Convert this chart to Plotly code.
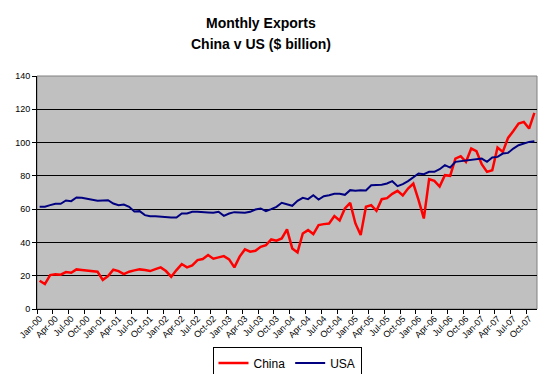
import plotly.graph_objects as go

MONTH_NAMES = ["Jan", "Feb", "Mar", "Apr", "May", "Jun",
               "Jul", "Aug", "Sep", "Oct", "Nov", "Dec"]
# Monthly categories Jan-00 .. Nov-07
categories = [f"{m}-{y:02d}" for y in range(0, 8) for m in MONTH_NAMES][:95]

china = [17.0, 15.0, 20.4, 20.8, 20.6, 22.2, 21.8, 23.8, 23.4, 23.2, 22.8, 22.4,
         17.4, 19.8, 23.6, 22.8, 21.0, 22.4, 23.2, 23.8, 23.4, 22.8, 24.0, 25.0,
         22.8, 19.4, 23.4, 27.0, 25.0, 26.2, 29.4, 30.0, 32.4, 30.2, 31.0, 31.8,
         29.8, 25.0, 31.5, 35.8, 34.4, 35.0, 37.4, 38.4, 41.8, 41.0, 42.4, 47.8,
         36.4, 34.0, 45.4, 47.4, 45.0, 50.4, 51.0, 51.4, 55.8, 53.2, 60.4, 63.8,
         51.4, 44.4, 61.4, 62.4, 59.0, 66.0, 66.6, 69.2, 71.0, 68.2, 72.4, 75.4,
         65.4, 54.4, 78.0, 77.0, 73.6, 80.4, 80.0, 90.4, 91.8, 88.4, 96.4, 94.8,
         87.0, 82.4, 83.4, 97.0, 94.4, 102.8, 107.0, 111.4, 112.4, 108.4, 117.8]

usa = [61.4, 61.4, 62.4, 63.2, 63.2, 65.2, 64.8, 67.0, 66.8, 66.0, 65.6, 65.0,
       65.2, 65.4, 63.4, 62.4, 62.8, 61.4, 58.6, 58.8, 56.4, 55.8, 55.8, 55.4,
       55.0, 55.0, 55.0, 57.4, 57.4, 58.4, 58.4, 58.4, 58.0, 57.8, 58.4, 56.0,
       57.4, 58.2, 58.2, 57.8, 58.4, 59.8, 60.4, 58.8, 60.0, 61.4, 63.8, 63.0,
       62.0, 65.0, 66.8, 66.0, 68.4, 65.8, 67.8, 68.4, 69.2, 69.2, 68.6, 71.4,
       71.0, 71.4, 71.2, 74.4, 74.4, 74.6, 75.4, 76.8, 73.8, 75.0, 76.8, 79.0,
       81.4, 81.0, 82.4, 82.4, 84.0, 86.4, 85.0, 88.4, 88.8, 88.8, 89.4, 89.8,
       90.4, 88.4, 91.0, 91.4, 93.4, 93.8, 96.4, 98.4, 99.4, 100.4, 100.8]

tick_labels = categories[::3]
tick_positions = list(range(0, len(categories), 3))
y_ticks = [0, 20, 40, 60, 80, 100, 120, 140]

FONT = "Liberation Sans, Arial, sans-serif"
x_idx = list(range(len(categories)))

fig = go.Figure()
fig.add_trace(go.Scatter(x=x_idx, y=china, mode="lines", name="China",
                         line=dict(color="#FF0000", width=2.5),
                         text=categories, hovertemplate="%{text}: %{y}<extra>China</extra>"))
fig.add_trace(go.Scatter(x=x_idx, y=usa, mode="lines", name="USA",
                         line=dict(color="#000080", width=2),
                         text=categories, hovertemplate="%{text}: %{y}<extra>USA</extra>"))

# The page adds an 8px body margin, so the figure is 8px smaller on each side.
fig.update_layout(
    width=539, height=366,
    margin=dict(l=29, r=10, t=68, b=65, autoexpand=False),
    paper_bgcolor="white",
    plot_bgcolor="#C0C0C0",
    font=dict(family=FONT, color="black", size=9),
    showlegend=True,
    legend=dict(orientation="h", x=0.5, xanchor="center", y=-0.165, yanchor="top",
                bordercolor="black", borderwidth=1, bgcolor="white",
                font=dict(size=12, family=FONT), itemwidth=30,
                tracegroupgap=0),
    annotations=[
        dict(text="<b>Monthly Exports</b>", xref="paper", yref="paper",
             x=0.448, y=1.228, xanchor="center", yanchor="middle",
             showarrow=False, font=dict(size=14, family=FONT)),
        dict(text="<b>China v US ($ billion)</b>", xref="paper", yref="paper",
             x=0.448, y=1.138, xanchor="center", yanchor="middle",
             showarrow=False, font=dict(size=14, family=FONT)),
    ],
    shapes=[dict(type="rect", xref="paper", yref="paper", x0=0, y0=0, x1=1, y1=1,
                 line=dict(color="#808080", width=1), layer="below")],
)

fig.update_xaxes(
    range=[-0.5, len(categories) - 0.5],
    tickmode="array", tickvals=tick_positions, ticktext=tick_labels,
    tickangle=-45, ticks="", tickfont=dict(size=9),
    showgrid=False, zeroline=False,
    showline=True, linecolor="black", linewidth=1,
    minor=dict(tick0=-0.5, dtick=3, ticks="outside", ticklen=4,
               tickcolor="black", showgrid=False),
    automargin=False,
)
fig.update_yaxes(
    range=[0, 140], tickmode="array", tickvals=y_ticks,
    ticks="outside", ticklen=4, tickcolor="black", tickfont=dict(size=9),
    showgrid=True, gridcolor="black", gridwidth=1, zeroline=False,
    showline=True, linecolor="black", linewidth=1,
    automargin=False,
)

fig.write_html("out.html")
